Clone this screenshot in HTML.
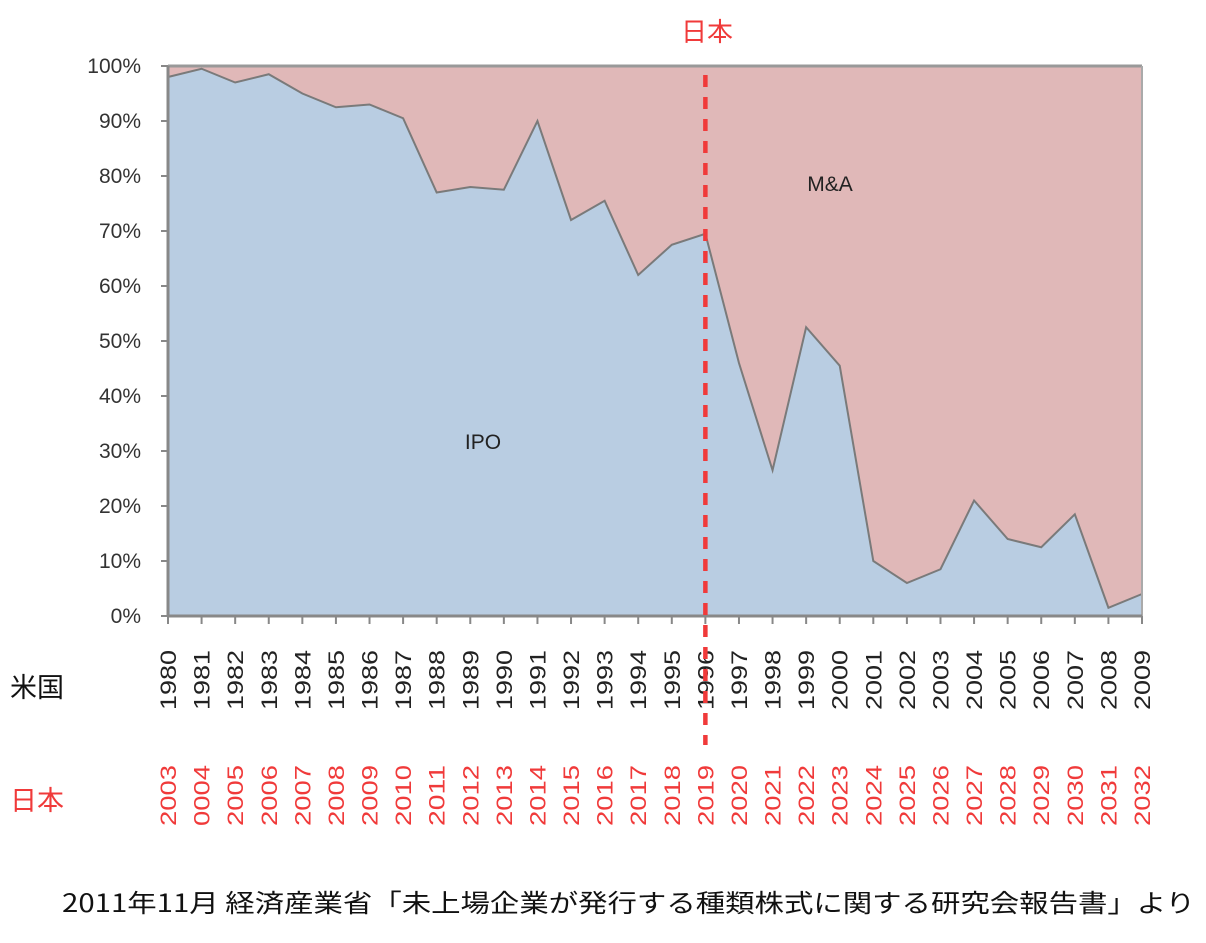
<!DOCTYPE html>
<html><head><meta charset="utf-8"><style>
body{margin:0;background:#fff;width:1206px;height:938px;overflow:hidden;font-family:"Liberation Sans","Noto Sans CJK JP",sans-serif}
</style></head><body>
<svg width="1206" height="938" xmlns="http://www.w3.org/2000/svg">
<g id="plot"></g>
<g id="axes"></g>
<text x="707" y="41" font-size="26" fill="#f03a3a" text-anchor="middle" font-family="Noto Sans CJK JP, sans-serif">日本</text>
<text x="10" y="697" font-size="27" fill="#111" font-family="Noto Sans CJK JP, sans-serif">米国</text>
<text x="10" y="810" font-size="27" fill="#f03a3a" font-family="Noto Sans CJK JP, sans-serif">日本</text>
<text x="62" y="912" font-size="25" fill="#111" textLength="1133" lengthAdjust="spacingAndGlyphs" font-family="Noto Sans CJK JP, sans-serif">2011年11月  経済産業省「未上場企業が発行する種類株式に関する研究会報告書」より</text>
</svg>
<script>
const years=["1980","1981","1982","1983","1984","1985","1986","1987","1988","1989","1990","1991","1992","1993","1994","1995","1996","1997","1998","1999","2000","2001","2002","2003","2004","2005","2006","2007","2008","2009"];
const jpYears=["2003","0004","2005","2006","2007","2008","2009","2010","2011","2012","2013","2014","2015","2016","2017","2018","2019","2020","2021","2022","2023","2024","2025","2026","2027","2028","2029","2030","2031","2032"];
const ipoShare=[98,99.5,97,98.5,95,92.5,93,90.5,77,78,77.5,90,72,75.5,62,67.5,69.5,46,26.5,52.5,45.5,10,6,8.5,21,14,12.5,18.5,1.5,4];
const yTicks=[0,10,20,30,40,50,60,70,80,90,100];
const markerIndex=16;
const NS="http://www.w3.org/2000/svg";
const X0=168,X1=1142,Y0=616,Y1=66;
const x=i=>X0+(X1-X0)*i/(years.length-1);
const y=v=>Y0-(Y0-Y1)*v/100;
function mk(t,a,p){const e=document.createElementNS(NS,t);for(const k in a)e.setAttribute(k,a[k]);p.appendChild(e);return e;}
const plot=document.getElementById('plot'),axes=document.getElementById('axes');
const ma=mk('rect',{x:X0,y:Y1,width:X1-X0,height:Y0-Y1,fill:'#e0b8b8'},plot);


let pts=ipoShare.map((v,i)=>x(i)+','+y(v)).join(' ');
const ipo=mk('polygon',{points:X0+','+Y0+' '+pts+' '+X1+','+Y0,fill:'#b9cde2'},plot);


const ln=mk('polyline',{points:pts,fill:'none',stroke:'#7a7a7a','stroke-width':2},plot);


mk('line',{x1:X0,y1:Y1,x2:X1,y2:Y1,stroke:'#999','stroke-width':3},axes);
mk('line',{x1:X1,y1:Y1,x2:X1,y2:Y0,stroke:'#aaa','stroke-width':2},axes);
mk('line',{x1:X0,y1:Y1,x2:X0,y2:Y0,stroke:'#888','stroke-width':3},axes);
mk('line',{x1:X0,y1:Y0,x2:X1,y2:Y0,stroke:'#888','stroke-width':3},axes);
yTicks.forEach(v=>{
 mk('line',{x1:X0-7,y1:y(v),x2:X0,y2:y(v),stroke:'#888','stroke-width':2},axes);
 const t=mk('text',{x:141,y:y(v)+7,'font-size':21,'text-anchor':'end',fill:'#333'},axes);
 t.textContent=v+'%';
 
 
});
years.forEach((yr,i)=>{
 mk('line',{x1:x(i),y1:Y0,x2:x(i),y2:Y0+8,stroke:'#888','stroke-width':2},axes);
 const t=mk('text',{transform:`translate(${x(i)+8},${710}) rotate(-90)`,'font-size':22,fill:'#222',textLength:60,lengthAdjust:'spacingAndGlyphs'},axes);
 t.textContent=yr;
 
 
 const j=mk('text',{transform:`translate(${x(i)+8},${826}) rotate(-90)`,'font-size':22,fill:'#f03a3a',textLength:61,lengthAdjust:'spacingAndGlyphs'},axes);
 j.textContent=jpYears[i];
 
 
});
const ma_l=mk('text',{x:830,y:191,'font-size':21,'text-anchor':'middle',fill:'#222'},axes);
ma_l.textContent='M&A';


const ipo_l=mk('text',{x:483,y:449,'font-size':21,'text-anchor':'middle',fill:'#222'},axes);
ipo_l.textContent='IPO';


const dl=mk('line',{x1:x(markerIndex),y1:75,x2:x(markerIndex),y2:745,stroke:'#f03a3a','stroke-width':4.5,'stroke-dasharray':'12 10'},axes);


</script>
</body></html>
